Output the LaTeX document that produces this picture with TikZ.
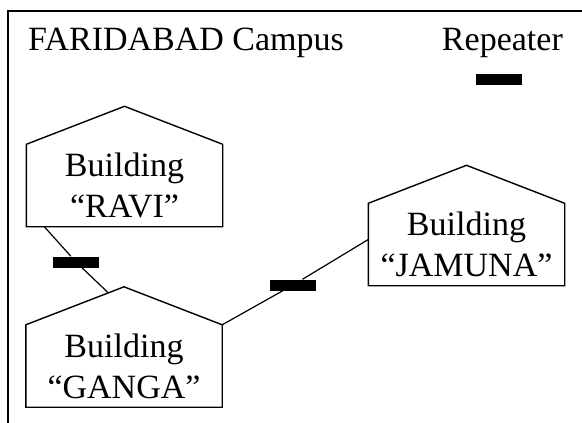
\documentclass[tikz,border=0pt]{standalone}
\usepackage{fontspec}
\setmainfont{Liberation Serif}

\begin{document}
\begin{tikzpicture}[x=1pt,y=-1pt,
        building/.style={minimum width=196pt,minimum height=82pt,inner sep=0pt,align=center,font=\fontsize{34}{41}\selectfont},
        repeater/.style={fill=black,minimum width=46pt,minimum height=11pt,inner sep=0pt},
        heading/.style={inner sep=0pt,font=\fontsize{34}{40}\selectfont}]
            \useasboundingbox (0,0) rectangle (582,423);
            \draw[line width=2pt] (8,423)--(8,11)--(582,11);
            \node[heading,anchor=base west] (title) at (28,50) {FARIDABAD Campus};
            \node[heading,anchor=base east] (legend) at (563,50) {Repeater};
            \node[repeater] (rep0) at (499,79) {};
            \foreach \id/\x/\y/\txt in {ravi/124.5/185.5/RAVI,ganga/124/366/GANGA,jamuna/466.5/244.5/JAMUNA}{
                \node[building] (\id) at (\x,\y) {Building\\``\txt''};
                \draw[line width=1.4pt] (\id.north west)--coordinate[pos=0.84] (\id-roof) ([yshift=38pt]\id.north)--(\id.north east)--(\id.south east)--(\id.south west)--cycle;
            }
            \node[repeater] (rep1) at (76,262) {};
            \node[repeater] (rep2) at (293,285) {};
            \draw[line width=1.2pt] ([xshift=18pt]ravi.south west)--(rep1)--(ganga-roof);
            \draw[line width=1.2pt] (ganga.north east)--(rep2)--([yshift=5pt]jamuna.west);
        \end{tikzpicture}
\end{document}
